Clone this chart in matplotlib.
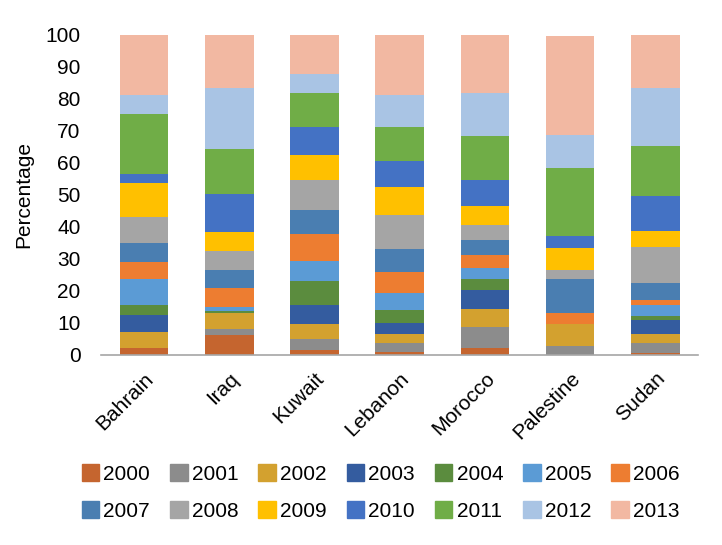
import matplotlib
matplotlib.use("Agg")
import matplotlib.pyplot as plt
from matplotlib.patches import Patch
import numpy as np

countries = ["Bahrain", "Iraq", "Kuwait", "Lebanon", "Morocco", "Palestine", "Sudan"]
years = ["2000", "2001", "2002", "2003", "2004", "2005", "2006",
         "2007", "2008", "2009", "2010", "2011", "2012", "2013"]

# one list per year, values per country (percent)
v2000 = [2.1, 6.3, 1.5, 1.0, 2.3, 0.0, 0.6]
v2001 = [0.0, 1.7, 3.4, 2.8, 6.3, 2.7, 3.2]
v2002 = [5.2, 5.2, 4.7, 2.9, 5.7, 7.1, 2.9]
v2003 = [5.3, 0.0, 6.1, 3.3, 6.0, 0.0, 4.1]
v2004 = [2.9, 0.6, 7.5, 4.2, 3.4, 0.0, 1.3]
v2005 = [8.2, 1.3, 6.3, 5.2, 3.4, 0.0, 3.4]
v2006 = [5.3, 5.7, 8.4, 6.6, 4.2, 3.4, 1.8]
v2007 = [5.9, 5.9, 7.5, 7.0, 4.7, 10.4, 5.2]
v2008 = [8.2, 5.9, 9.3, 10.7, 4.7, 2.9, 11.1]
v2009 = [10.6, 5.9, 7.7, 8.8, 5.9, 7.0, 5.3]
v2010 = [2.9, 11.8, 8.8, 8.2, 8.2, 3.7, 10.7]
v2011 = [18.8, 14.0, 10.7, 10.4, 13.6, 21.1, 15.8]
v2012 = [5.9, 19.2, 5.9, 10.0, 13.4, 10.4, 18.1]
v2013 = [18.8, 16.6, 12.3, 18.8, 18.3, 31.1, 17.0]
series = [v2000, v2001, v2002, v2003, v2004, v2005, v2006,
          v2007, v2008, v2009, v2010, v2011, v2012, v2013]

colors = ["#C5652F", "#8C8C8C", "#D3A12F", "#345C9F", "#5B8C3E", "#5B9BD5", "#ED7D31",
          "#4A7EB1", "#A5A5A5", "#FFC000", "#4472C4", "#70AD47", "#A9C4E4", "#F2B8A2"]

plt.rcParams['font.family'] = ['Liberation Sans', 'DejaVu Sans']

W, H = 722, 545
fig = plt.figure(figsize=(W / 100, H / 100), dpi=100)
ax = fig.add_axes([101.5 / W, 1 - 355 / H, (698 - 101.5) / W, 320 / H])

x = np.arange(len(countries))
bottom = np.zeros(len(countries))
for yr, vals, c in zip(years, series, colors):
    ax.bar(x, vals, width=0.57, bottom=bottom, color=c, label=yr)
    bottom += np.array(vals)

ax.set_xlim(-0.5, len(countries) - 0.5)
ax.set_ylim(0, 100)
ax.set_yticks(range(0, 101, 10))
for s in ["top", "right", "left"]:
    ax.spines[s].set_visible(False)
ax.spines["bottom"].set_color("#A6A6A6")
ax.spines["bottom"].set_linewidth(1.2)
ax.tick_params(axis='both', length=0, labelsize=15)
ax.tick_params(axis='y', pad=15)
ax.set_xticks(x)
ax.set_xticklabels(countries, rotation=45, ha='right', rotation_mode='anchor', fontsize=15)
ax.tick_params(axis='x', pad=10)
ax.set_ylabel("Percentage", fontsize=15, labelpad=9)

# legend: row 1 = 2000..2006, row 2 = 2007..2013 (column-major order)
ncol = 7
order = []
for i in range(ncol):
    order += [i, i + ncol]
handles = [Patch(color=colors[i]) for i in order]
labels = [years[i] for i in order]
fig.legend(handles, labels, ncol=ncol, loc='upper left',
           bbox_to_anchor=(81.5 / W, 1 - 464 / H),
           frameon=False, fontsize=15, handlelength=0.85, handleheight=0.85,
           handletextpad=0.2, columnspacing=0.95, labelspacing=0.85,
           borderpad=0, borderaxespad=0)

fig.savefig("out.png", dpi=100)
